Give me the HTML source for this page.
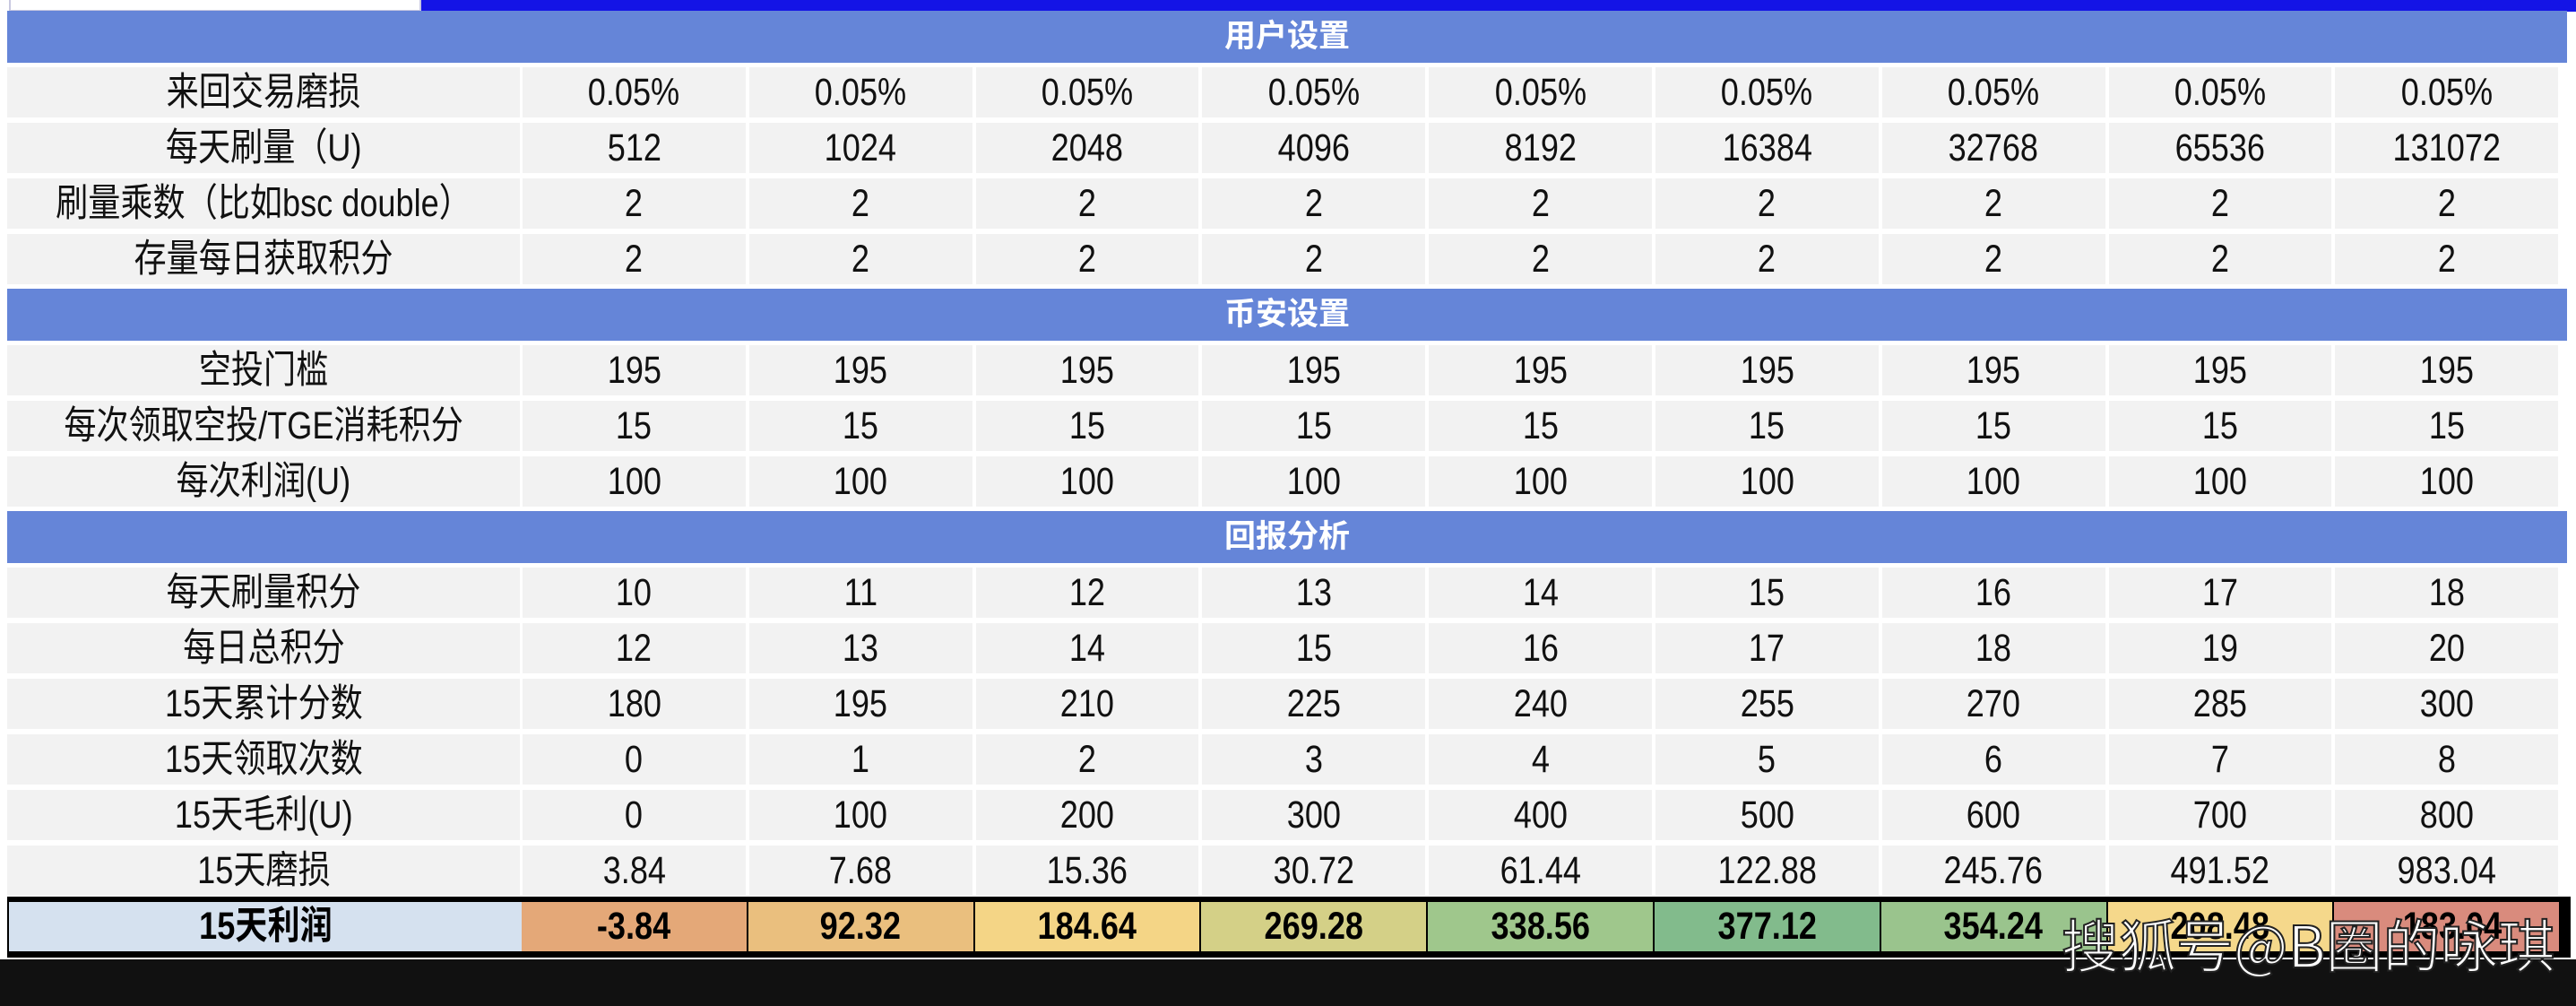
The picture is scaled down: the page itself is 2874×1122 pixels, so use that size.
<!DOCTYPE html>
<html><head><meta charset="utf-8"><style>
*{margin:0;padding:0;box-sizing:border-box}
body{width:2874px;height:1122px;background:#fff;position:relative;overflow:hidden;font-family:"Liberation Sans","Noto Sans CJK SC",sans-serif;}
.topw{position:absolute;left:10px;top:0;width:460px;height:13px;background:#fff;border:2px solid #c8c8e0;border-top:none}
.topb{position:absolute;left:470px;top:0;width:2404px;height:13px;background:#1414e6}
.hdr{position:absolute;left:8px;width:2856px;height:58px;background:#6585d8;color:#fff;font-weight:bold;font-size:35px;text-align:center;line-height:58px}
.row{position:absolute;left:8px;width:2856px;height:62px;background:#fff}
.c{position:absolute;top:3px;height:56px;background:#f2f2f2;font-size:43px;color:#111;text-align:center;line-height:56px;white-space:nowrap}
.c span,.f span{display:inline-block;transform:scaleX(.84)}
.fin{position:absolute;left:8px;top:1000px;width:2860px;height:68px;background:#000}
.f{position:absolute;top:6px;height:55px;font-size:43px;font-weight:bold;color:#000;text-align:center;line-height:55px}
.bot{position:absolute;left:0;top:1070px;width:2874px;height:52px;background:#111}
.wm{position:absolute;left:2300px;top:1014px;font-size:64px;color:#fff;-webkit-text-stroke:2px #222;font-family:"Noto Sans CJK SC",sans-serif;letter-spacing:0px;line-height:76px}
</style></head><body>
<div class="topw"></div><div class="topb"></div>
<div id="t"></div>
<script>
var W=252.8,X0=581;
var data=[
['h','用户设置'],
['来回交易磨损','0.05%','0.05%','0.05%','0.05%','0.05%','0.05%','0.05%','0.05%','0.05%'],
['每天刷量（U)','512','1024','2048','4096','8192','16384','32768','65536','131072'],
['刷量乘数（比如bsc double）','2','2','2','2','2','2','2','2','2'],
['存量每日获取积分','2','2','2','2','2','2','2','2','2'],
['h','币安设置'],
['空投门槛','195','195','195','195','195','195','195','195','195'],
['每次领取空投/TGE消耗积分','15','15','15','15','15','15','15','15','15'],
['每次利润(U)','100','100','100','100','100','100','100','100','100'],
['h','回报分析'],
['每天刷量积分','10','11','12','13','14','15','16','17','18'],
['每日总积分','12','13','14','15','16','17','18','19','20'],
['15天累计分数','180','195','210','225','240','255','270','285','300'],
['15天领取次数','0','1','2','3','4','5','6','7','8'],
['15天毛利(U)','0','100','200','300','400','500','600','700','800'],
['15天磨损','3.84','7.68','15.36','30.72','61.44','122.88','245.76','491.52','983.04']];
var h='';
data.forEach(function(r,i){
 var top=10+62*i;
 if(r[0]=='h'){h+='<div class="hdr" style="top:'+(top+2)+'px">'+r[1]+'</div>';return;}
 h+='<div class="row" style="top:'+top+'px">';
 h+='<div class="c" style="left:0;width:572px"><span>'+r[0]+'</span></div>';
 for(var k=1;k<10;k++){var x=X0-8+(k-1)*W;h+='<div class="c" style="left:'+(x+2)+'px;width:'+(W-4)+'px"><span>'+r[k]+'</span></div>';}
 h+='</div>';
});
var fv=['-3.84','92.32','184.64','269.28','338.56','377.12','354.24','208.48','-183.04'];
var fc=['#e4a878','#eabf7e','#f4d586','#d4d087','#9fc78c','#82bb8c','#9ac48d','#f5d88b','#d98b7d'];
h+='<div class="fin"><div class="f" style="left:2px;width:572px;background:#d5e1ef"><span>15天利润</span></div>';
for(var k=0;k<9;k++){var x=X0-8+k*W;h+='<div class="f" style="left:'+(x+1)+'px;width:'+(W-2)+'px;background:'+fc[k]+'"><span>'+fv[k]+'</span></div>';}
h+='</div>';
document.getElementById('t').innerHTML=h;
</script>
<div class="bot"></div>
<div class="wm">搜狐号@B圈的咏琪</div>
</body></html>
